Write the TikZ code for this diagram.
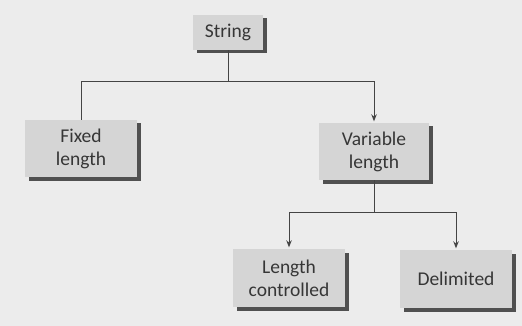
\documentclass[tikz,border=0pt]{standalone}
\usepackage{fontspec}
\setmainfont{Carlito}
\usetikzlibrary{arrows.meta,shadows}

\definecolor{paper}{HTML}{ECECEC}
\definecolor{boxfill}{HTML}{D5D5D5}
\definecolor{boxshade}{HTML}{505050}
\definecolor{ink}{HTML}{363636}
\definecolor{wire}{HTML}{444444}

\tikzset{
  box/.style={
    fill=boxfill, text=ink, align=center, inner sep=0pt,
    font=\fontsize{19.5}{23}\selectfont,
    drop shadow={shadow xshift=3.5pt, shadow yshift=-3.5pt,
                 fill=boxshade, opacity=1}
  },
  wire/.style={draw=wire, line width=1pt},
  feed/.style={wire, -{Stealth[length=7pt,width=5.5pt]}, shorten >=1.5pt}
}

\begin{document}
\begin{tikzpicture}[x=1pt,y=-1pt]
  % page
  \fill[paper] (0,0) rectangle (522,326);
  \useasboundingbox (0,0) rectangle (522,326);

  % categories
  \node[box, minimum width=70pt,  minimum height=35pt] (str)   at (228,32.5)  {String};
  \node[box, minimum width=112pt, minimum height=57pt] (fix)   at (81,148.5)  {Fixed\\length};
  \node[box, minimum width=110pt, minimum height=57pt] (var)   at (374,151.5) {Variable\\length};
  \node[box, minimum width=112pt, minimum height=58pt] (lenc)  at (289,278)   {Length\\controlled};
  \node[box, minimum width=112pt, minimum height=58pt] (delim) at (456,279)   {Delimited};

  % junction points of the two buses
  \coordinate (hub)  at (228,82);
  \coordinate (hub2) at (374,212);

  % first level
  \draw[wire] (str.south) -- (hub);
  \draw[wire] (hub) -| (fix.north);
  \draw[feed] (hub) -| (var.north);

  % second level
  \draw[wire] (var.south) -- (hub2);
  \draw[feed] (hub2) -| (lenc.north);
  \draw[feed] (hub2) -| (delim.north);
\end{tikzpicture}
\end{document}
